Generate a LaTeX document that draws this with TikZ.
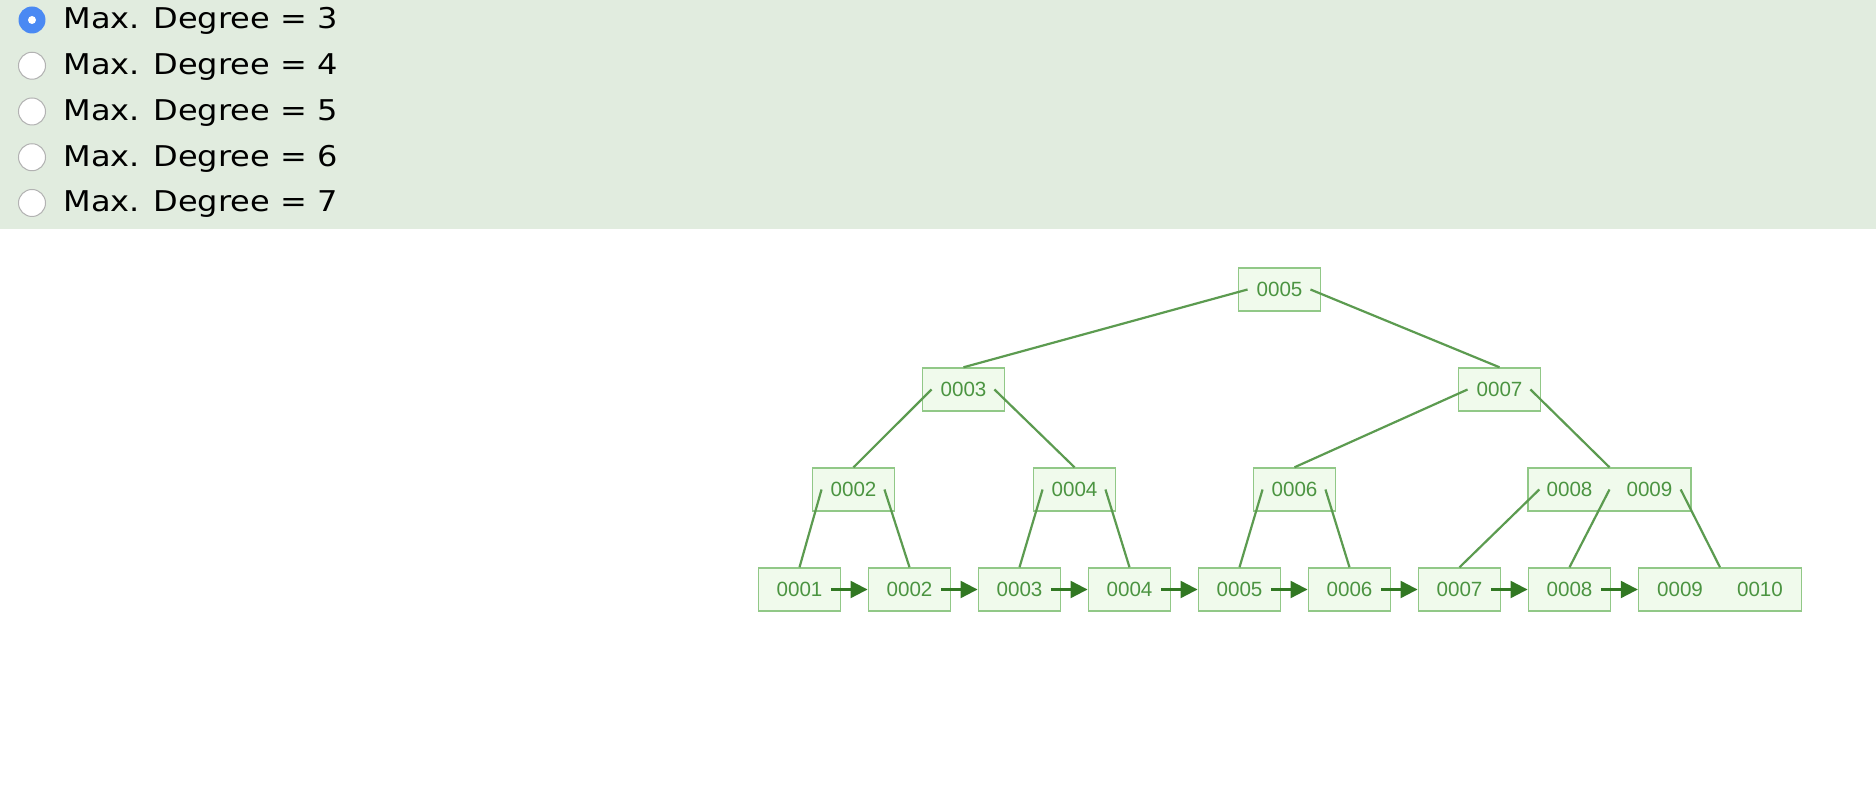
\documentclass[tikz,border=0pt]{standalone}
\usepackage{fontspec}
\usetikzlibrary{arrows.meta,calc}
\newfontfamily\radiofont[FakeStretch=1.12]{DejaVu Sans}
\newfontfamily\keyfont{Liberation Sans}
\definecolor{panelbg}{RGB}{225,236,223}
\definecolor{radioblue}{RGB}{74,137,243}
\definecolor{radiogray}{RGB}{178,178,178}
\definecolor{boxline}{RGB}{145,200,135}
\definecolor{boxfill}{RGB}{240,250,236}
\definecolor{keytext}{RGB}{75,148,65}
\definecolor{edgegreen}{RGB}{92,155,80}
\definecolor{linkgreen}{RGB}{50,120,35}
\tikzset{
  keybox/.style={draw=boxline, fill=boxfill, line width=0.7pt, text=keytext,
    font=\keyfont\fontsize{10.3}{12}\selectfont,
    minimum width=41.25pt, minimum height=21.5pt, inner sep=0pt},
  widebox/.style={keybox, minimum width=81.5pt},
  treeline/.style={edgegreen, line width=1.1pt},
  leaflink/.style={linkgreen, line width=1.1pt, -{Triangle[length=8.5pt,width=8.5pt]}},
  radiotext/.style={anchor=base west, inner sep=0pt,
    font=\radiofont\fontsize{14.3}{16}\selectfont},
  radiooff/.style={circle, draw=radiogray, fill=white, line width=0.5pt,
    minimum size=13.5pt, inner sep=0pt},
  radioon/.style={circle, fill=radioblue, minimum size=13.5pt, inner sep=0pt},
}
\begin{document}
\begin{tikzpicture}[x=0.5pt,y=-0.5pt]
    \useasboundingbox (0,0) rectangle (1876,790);
    \fill[panelbg] (0,0) rectangle (1876,229);
    % degree choices
    \node[radioon] (r3) at (32,20) {};
    \fill[white] (r3.center) circle (2pt);
    \node[radiotext] (deg3) at (63,29) {Max. Degree = 3};
    \foreach \d [count=\i] in {4,...,7}
      {
        \node[radiooff] (r\d) at (32,20+45.75*\i) {};
        \node[radiotext] (deg\d) at (63,29+45.75*\i) {Max. Degree = \d};
      }
    % inner nodes
    \node[keybox] (k5) at (1279.5,289.5) {0005};
    \node[keybox] (k3) at (963.5,389.5) {0003};
    \node[keybox] (k7) at (1499.5,389.5) {0007};
    \node[keybox] (k2) at (853.5,489.5) {0002};
    \node[keybox] (k4) at (1074.5,489.5) {0004};
    \node[keybox] (k6) at (1294.5,489.5) {0006};
    \node[widebox] (k89) at (1609.5,489.5) {\makebox[40pt]{0008}\makebox[40pt]{0009}};
    % leaves
    \foreach \v [count=\i from 0] in {1,...,8}
      \node[keybox] (leaf\v) at (799.5+110*\i,589.5) {000\v};
    \node[widebox] (leaf9) at (1720,589.5) {\makebox[40pt]{0009}\makebox[40pt]{0010}};
    % child pointers
    \draw[treeline] ($(k5.west)+(10,0)$) -- (k3.north);
    \draw[treeline] ($(k5.east)+(-11,0)$) -- (k7.north);
    \draw[treeline] ($(k3.west)+(10,0)$) -- (k2.north);
    \draw[treeline] ($(k3.east)+(-11,0)$) -- (k4.north);
    \draw[treeline] ($(k7.west)+(10,0)$) -- (k6.north);
    \draw[treeline] ($(k7.east)+(-11,0)$) -- (k89.north);
    \draw[treeline] ($(k2.west)+(10,0)$) -- (leaf1.north);
    \draw[treeline] ($(k2.east)+(-11,0)$) -- (leaf2.north);
    \draw[treeline] ($(k4.west)+(10,0)$) -- (leaf3.north);
    \draw[treeline] ($(k4.east)+(-11,0)$) -- (leaf4.north);
    \draw[treeline] ($(k6.west)+(10,0)$) -- (leaf5.north);
    \draw[treeline] ($(k6.east)+(-11,0)$) -- (leaf6.north);
    \draw[treeline] ($(k89.west)+(12,0)$) -- (leaf7.north);
    \draw[treeline] (k89.center) -- (leaf8.north);
    \draw[treeline] ($(k89.east)+(-11,0)$) -- (leaf9.north);
    % leaf links
    \foreach \a/\b in {1/2,2/3,3/4,4/5,5/6,6/7,7/8,8/9}
      \draw[leaflink] ($(leaf\a.east)+(-10,0)$) -- (leaf\b.west);
\end{tikzpicture}
\end{document}
